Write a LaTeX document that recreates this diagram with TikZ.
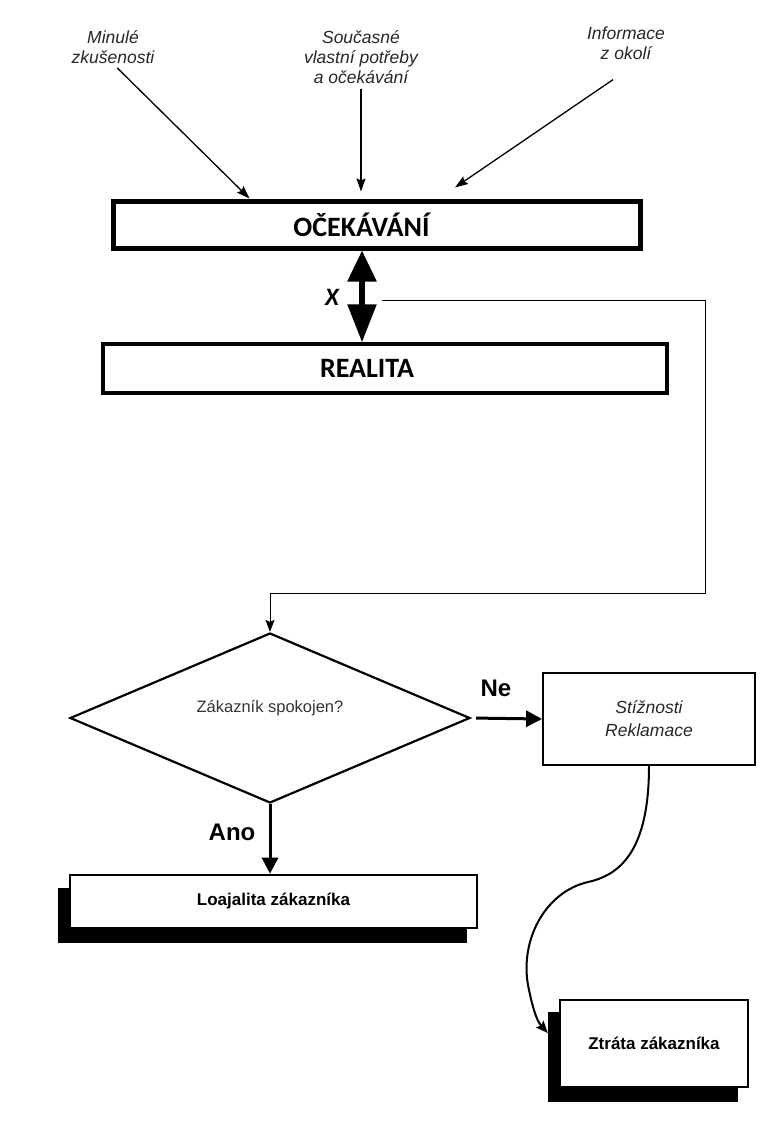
\documentclass[tikz,border=0pt]{standalone}
\usepackage{fontspec}
\setmainfont{Liberation Sans}
\newfontfamily\carlito{Carlito}
\usetikzlibrary{arrows.meta,shapes.geometric,calc}

\begin{document}
\begin{tikzpicture}[x=1pt,y=-1pt,
  src/.style={font=\itshape\fontsize{17.5}{20}\selectfont, align=center, inner sep=0pt, text=black!85},
  inarrow/.style={line width=1.3pt, -{Stealth[length=13pt,width=9pt,inset=2pt]}},
  bigbox/.style={draw, line width=#1, inner sep=0pt, font=\carlito\bfseries\fontsize{28}{30}\selectfont},
  flowbox/.style={draw, fill=white, line width=2.6pt, inner sep=0pt, font=\bfseries\fontsize{17}{20}\selectfont},
  shadowbox/.style={fill=black, draw=none, inner sep=0pt},
  boldarrow/.style={line width=3pt, -{Triangle[length=16pt,width=16pt]}},
  answer/.style={font=\bfseries\fontsize{24}{26}\selectfont, inner sep=0pt},
  thinline/.style={line width=1pt},
]
\useasboundingbox (0,0) rectangle (773,1129);

% sources of expectations
\node[src] (past)  at (113,47) {Minulé\\zkušenosti};
\node[src] (needs) at (361,57) {Současné\\vlastní potřeby\\a očekávání};
\node[src] (info)  at (626,43) {Informace\\z okolí};

% expectation and reality
\node[bigbox=5pt, minimum width=527pt, minimum height=47pt] (exp) at (376.5,224.5) {\hspace*{-30pt}OČEKÁVÁNÍ};
\node[bigbox=3.5pt, minimum width=564pt, minimum height=49pt] (real) at (385,368.5) {\hspace*{-36pt}REALITA};

\draw[inarrow, shorten <=6pt] (past.south) -- ([xshift=139pt]exp.north west);
\draw[inarrow, shorten <=5pt, shorten >=7pt] (needs.south) -- (needs.south |- exp.north);
\draw[inarrow] ([xshift=-13pt,yshift=-20pt]info.south) -- ([xshift=78.5pt,yshift=11pt]exp.north);

% gap between expectation and reality
\draw[line width=5.5pt, {Triangle[length=31pt,width=28pt]}-{Triangle[length=38pt,width=28pt]}]
  (362,0 |- exp.south) -- (362,0 |- real.north);
\node[font=\carlito\bfseries\itshape\fontsize{25}{26}\selectfont, inner sep=0pt] (xl) at (332,297) {X};

% decision
\node[diamond, draw, line width=2.2pt, minimum width=400pt, minimum height=170pt,
      inner sep=0pt, aspect=2.35,
      label={[yshift=10pt, font=\fontsize{16.5}{20}\selectfont, text=black!80]center:Zákazník spokojen?}]
      (dia) at (270,718) {};

\coordinate (fb) at (382,300);
\draw[thinline, -{Stealth[length=12pt,width=9pt,inset=2pt]}] (fb) -| (705,593) -| (dia.north);

% complaints
\node[draw, line width=1.8pt, minimum width=212pt, minimum height=92pt, inner sep=0pt,
      font=\itshape\fontsize{17.5}{23}\selectfont, align=center, text=black!85] (stiz) at (649,719) {Stížnosti\\Reklamace};
\draw[boldarrow, shorten <=5pt] (dia.east) -- (stiz.west);
\node[answer] (ne) at (496,688) {Ne};

% loyalty
\node[shadowbox, minimum width=409pt, minimum height=55pt] (lshadow) at (262.5,915.5) {};
\node[flowbox, minimum width=407pt, minimum height=53pt] (loy) at (273.5,901.5) {Loajalita zákazníka};
\draw[boldarrow] (dia.south) -- (dia.south |- loy.north);
\node[answer] (ano) at (232,832) {Ano};

% loss
\node[shadowbox, minimum width=190pt, minimum height=90pt] (zshadow) at (643,1057) {};
\node[flowbox, minimum width=188pt, minimum height=87pt] (loss) at (654,1043.5) {Ztráta zákazníka};
\draw[line width=2pt, -{Stealth[length=12pt,width=10pt,inset=2pt]}]
  (stiz.south) .. controls +(0,85) and (620,875) .. (588,882)
  .. controls (545,892) and (520,940) .. (528,985)
  .. controls (532,1005) and (536,1020) .. ([yshift=24pt]zshadow.west);
\end{tikzpicture}
\end{document}
